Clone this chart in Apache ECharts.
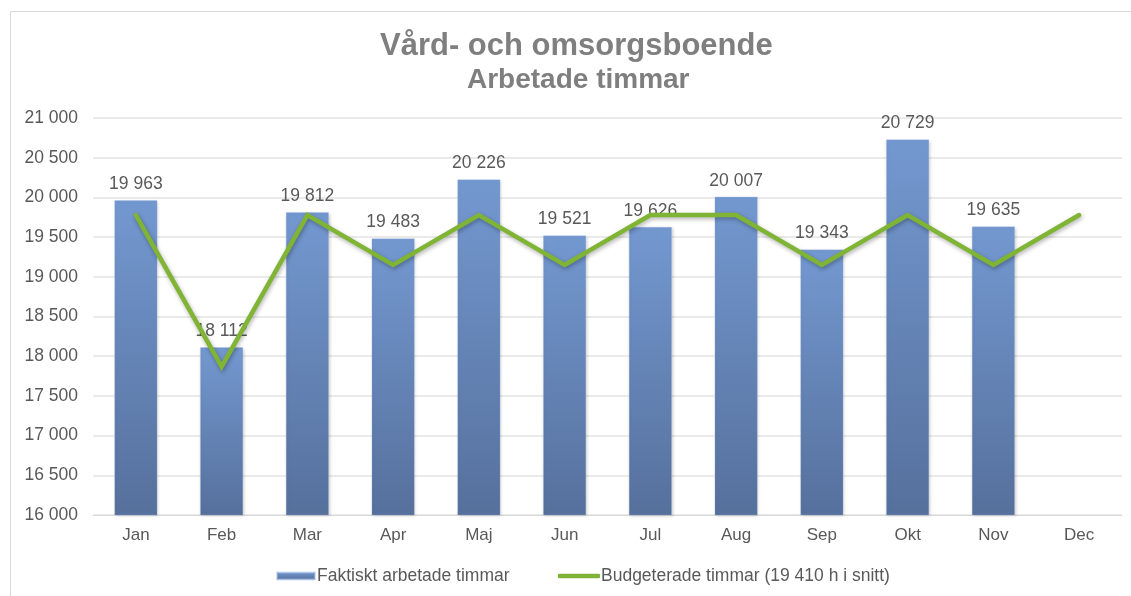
<!DOCTYPE html>
<html>
<head>
<meta charset="utf-8">
<script src="https://cdn.jsdelivr.net/npm/echarts@6/dist/echarts.min.js"></script>
<style>
  html, body { margin: 0; padding: 0; background: #fff; }
  #chart { width: 1131px; height: 596px; }
</style>
</head>
<body>
<div id="chart"></div>
<script>
// Monthly hours for the care homes unit
const months = ['Jan', 'Feb', 'Mar', 'Apr', 'Maj', 'Jun', 'Jul', 'Aug', 'Sep', 'Okt', 'Nov', 'Dec'];
const actualHours = [19963, 18112, 19812, 19483, 20226, 19521, 19626, 20007, 19343, 20729, 19635, null];
const budgetHours = [19778, 17868, 19778, 19150, 19778, 19150, 19778, 19778, 19150, 19778, 19150, 19778];
const actualName = 'Faktiskt arbetade timmar';
const budgetName = 'Budgeterade timmar (19 410 h i snitt)';

const FONT = '"Liberation Sans", Arial, sans-serif';
const TEXT = '#595959';

function fmt(v) {
  return String(Math.round(v)).replace(/\B(?=(\d{3})+(?!\d))/g, ' ');
}

const chart = echarts.init(document.getElementById('chart'), null, { renderer: 'canvas' });

chart.setOption({
  backgroundColor: '#ffffff',
  animation: false,
  textStyle: { fontFamily: FONT },
  title: [
    {
      text: 'Vård- och omsorgsboende',
      left: 375,
      top: 26,
      textStyle: { fontFamily: FONT, fontSize: 31, fontWeight: 'bold', color: '#7f7f7f' }
    },
    {
      text: 'Arbetade timmar',
      left: 462,
      top: 61,
      textStyle: { fontFamily: FONT, fontSize: 28, fontWeight: 'bold', color: '#7f7f7f' }
    }
  ],
  graphic: [
    {
      type: 'rect',
      shape: { x: 10.5, y: 11.5, width: 1140, height: 600 },
      style: { fill: 'none', stroke: '#d9d9d9', lineWidth: 1 },
      silent: true,
      z: -1
    }
  ],
  legend: [
    {
      data: [actualName],
      left: 271,
      top: 562,
      icon: 'rect',
      itemWidth: 38,
      itemHeight: 7,
      itemGap: 0,
      textStyle: { fontFamily: FONT, fontSize: 17.5, color: TEXT, padding: [0, 0, 0, -3] }
    },
    {
      data: [budgetName],
      left: 553,
      top: 562,
      icon: 'roundRect',
      itemWidth: 42,
      itemHeight: 4.5,
      textStyle: { fontFamily: FONT, fontSize: 17.5, color: TEXT, padding: [0, 0, 0, -4] }
    }
  ],
  grid: { left: 93, right: 9, top: 118, bottom: 81, containLabel: false },
  xAxis: {
    type: 'category',
    data: months,
    axisLine: { show: true, lineStyle: { color: '#d9d9d9', width: 1 } },
    axisTick: { show: false },
    axisLabel: { fontFamily: FONT, fontSize: 17, color: TEXT, margin: 12 }
  },
  yAxis: {
    type: 'value',
    min: 16000,
    max: 21000,
    interval: 500,
    axisLine: { show: false },
    axisTick: { show: false },
    splitLine: { lineStyle: { color: '#e3e3e3', width: 1.5 } },
    axisLabel: { fontFamily: FONT, fontSize: 17.5, color: TEXT, margin: 15, formatter: fmt }
  },
  series: [
    {
      name: actualName,
      type: 'bar',
      data: actualHours,
      barWidth: '50%',
      itemStyle: {
        color: new echarts.graphic.LinearGradient(0, 0, 0, 1, [
          { offset: 0, color: '#7398d0' },
          { offset: 1, color: '#56709c' }
        ]),
        borderColor: 'rgba(170,195,235,0.5)',
        borderWidth: 0.5,
        shadowColor: 'rgba(0,0,0,0.18)',
        shadowBlur: 3,
        shadowOffsetX: 1,
        shadowOffsetY: 1
      },
      label: {
        show: true,
        position: 'top',
        distance: 7,
        fontFamily: FONT,
        fontSize: 17.5,
        color: TEXT,
        formatter: p => fmt(p.value)
      },
      z: 2
    },
    {
      name: budgetName,
      type: 'line',
      data: budgetHours,
      symbol: 'none',
      smooth: false,
      lineStyle: {
        color: '#80b434',
        width: 4.5,
        cap: 'round',
        join: 'miter',
        shadowColor: 'rgba(0,0,0,0.3)',
        shadowBlur: 4,
        shadowOffsetX: 1,
        shadowOffsetY: 2
      },
      itemStyle: { color: '#80b434' },
      z: 3
    }
  ]
});
</script>
</body>
</html>
